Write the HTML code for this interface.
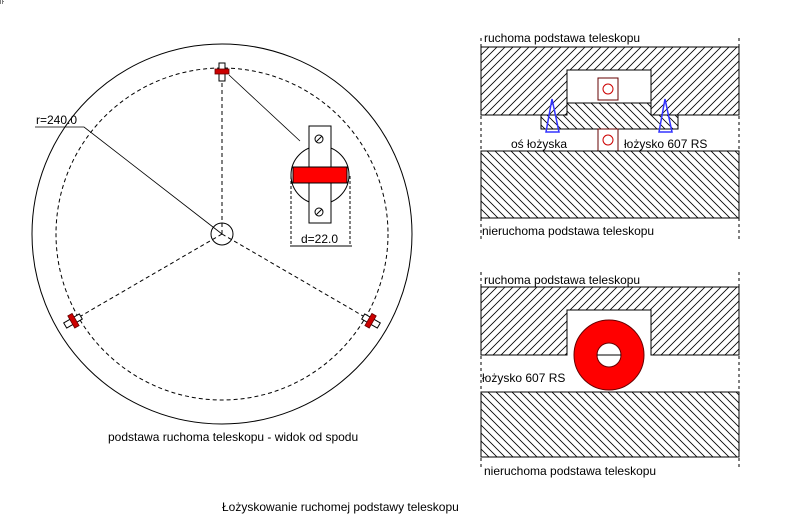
<!DOCTYPE html><html><head><meta charset="utf-8"><style>body{margin:0;background:#fff}svg{display:block}text{font-family:"Liberation Sans",sans-serif;font-size:12px;fill:#000}</style></head><body>
<svg width="794" height="520" viewBox="0 0 794 520" xmlns="http://www.w3.org/2000/svg">
<defs>
<pattern id="h1" width="8" height="8" patternUnits="userSpaceOnUse"><path d="M-2,2 L2,-2 M0,8 L8,0 M6,10 L10,6" stroke="#000" stroke-width="0.8"/></pattern>
<pattern id="h2" width="8" height="8" patternUnits="userSpaceOnUse"><path d="M-2,6 L2,10 M0,0 L8,8 M6,-2 L10,2" stroke="#000" stroke-width="0.8"/></pattern>
<g id="brg"><rect x="-3" y="-9" width="6" height="18" fill="#fff" stroke="#000"/><rect x="-7" y="-3" width="14" height="5" fill="#c00" stroke="#600" stroke-width="0.8"/></g>
</defs>
<rect x="0" y="0" width="3" height="3" fill="none" stroke="#000" stroke-dasharray="1,1"/>
<circle cx="222" cy="234" r="190" fill="none" stroke="#000"/>
<circle cx="222" cy="234" r="166" fill="none" stroke="#000" stroke-dasharray="4,3"/>
<circle cx="222" cy="234" r="11" fill="none" stroke="#000"/>
<path d="M222,234 L222,72 M222,234 L74,320 M222,234 L370,320" fill="none" stroke="#000" stroke-dasharray="4,3"/>
<path d="M222,234 L84,127 L35,127 M229,75 L300,141" fill="none" stroke="#000" stroke-width="0.8"/>
<text x="36" y="124">r=240.0</text>
<use href="#brg" x="222" y="72"/>
<use href="#brg" transform="translate(73,321) rotate(60)"/>
<use href="#brg" transform="translate(371,321) rotate(-60)"/>
<circle cx="320" cy="175" r="29" fill="none" stroke="#000"/>
<rect x="309" y="126" width="22" height="97" fill="#fff" stroke="#000"/>
<rect x="293" y="167" width="54" height="16" fill="#f00" stroke="#000"/>
<circle cx="319" cy="139" r="4" fill="none" stroke="#000"/><path d="M316,142 L322,136" stroke="#000"/>
<circle cx="319" cy="212" r="4" fill="none" stroke="#000"/><path d="M316,215 L322,209" stroke="#000"/>
<path d="M291,176 L291,246 M350,176 L350,246" fill="none" stroke="#000" stroke-dasharray="3,2"/>
<path d="M290,246 L352,246" stroke="#000"/>
<text x="301" y="243">d=22.0</text>
<text x="108" y="441">podstawa ruchoma teleskopu - widok od spodu</text>
<text x="222" y="511">Łożyskowanie ruchomej podstawy  teleskopu</text>
<path d="M481,38 L481,240 M739,38 L739,240 M481,272 L481,468 M739,272 L739,468" fill="none" stroke="#000" stroke-dasharray="3,3"/>
<text x="484" y="42">ruchoma podstawa teleskopu</text>
<path d="M481,47 L739,47 L739,115 L651,115 L651,70 L567,70 L567,115 L481,115 Z" fill="url(#h1)" stroke="#000"/>
<path d="M567,103 L651,103 L651,115 L678,115 L678,129 L541,129 L541,115 L567,115 Z" fill="url(#h2)" stroke="#000"/>
<rect x="598" y="78" width="20" height="22" fill="#fff" stroke="#600"/><circle cx="608" cy="89" r="5" fill="none" stroke="#c00"/>
<rect x="598" y="129" width="20" height="22" fill="#fff" stroke="#600"/><circle cx="608" cy="140" r="5" fill="none" stroke="#c00"/>
<path d="M552,99 L546,132 L559,132 Z M665,99 L659,132 L672,132 Z" fill="none" stroke="#33f" stroke-width="1.5"/>
<rect x="481" y="151" width="258" height="67" fill="url(#h2)" stroke="#000"/>
<text x="511" y="148">oś łożyska</text>
<text x="624" y="148">łożysko 607 RS</text>
<text x="482" y="235">nieruchoma podstawa teleskopu</text>
<text x="484" y="284">ruchoma podstawa teleskopu</text>
<path d="M481,287 L739,287 L739,355 L651,355 L651,310 L567,310 L567,355 L481,355 Z" fill="url(#h1)" stroke="#000"/>
<circle cx="609" cy="355" r="35" fill="#f00" stroke="#600"/>
<circle cx="609" cy="355" r="12" fill="#fff" stroke="#600"/>
<path d="M597,355 L621,355" stroke="#000"/>
<text x="482" y="382">łożysko 607 RS</text>
<rect x="481" y="392" width="258" height="65" fill="url(#h2)" stroke="#000"/>
<text x="484" y="475">nieruchoma podstawa teleskopu</text>
</svg>
</body></html>
